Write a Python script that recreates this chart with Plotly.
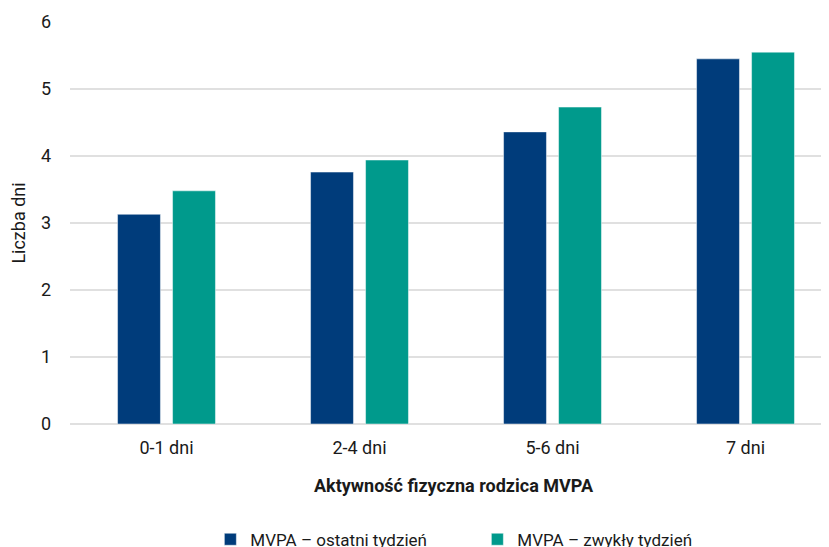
import plotly.graph_objects as go

categories = ["0-1 dni", "2-4 dni", "5-6 dni", "7 dni"]
series_names = ["MVPA – ostatni tydzień", "MVPA – zwykły tydzień"]
last_week = [3.13, 3.76, 4.36, 5.45]
usual_week = [3.48, 3.94, 4.73, 5.55]
y_ticks = [0, 1, 2, 3, 4, 5, 6]

FONT = "Liberation Sans Narrow, Arial Narrow, Roboto, sans-serif"
colors = ["#003C7B", "#009A8C"]

fig = go.Figure()
for name, vals, col in zip(series_names, [last_week, usual_week], colors):
    fig.add_trace(go.Bar(
        x=categories, y=vals, name=name,
        marker=dict(color=col, line=dict(color="rgba(255,255,255,0.6)", width=0.8)),
    ))

fig.update_layout(
    width=829, height=547,
    margin=dict(l=62, r=0, t=14, b=131, autoexpand=False),
    paper_bgcolor="white", plot_bgcolor="white",
    barmode="group", bargap=0.43, bargroupgap=0.22,
    font=dict(family=FONT, size=18, color="#1a1a1a"),
    showlegend=True,
    legend=dict(orientation="h", x=0.183, xanchor="left", y=-0.243, yanchor="top",
                font=dict(family=FONT, size=17, color="#1a1a1a"),
                itemwidth=30, entrywidthmode="pixels", entrywidth=222),
)
fig.update_xaxes(
    range=[-0.5, 3.474], showgrid=False, showline=False, ticks="", automargin=False,
    tickfont=dict(family=FONT, size=18), ticklabelstandoff=11,
    title=dict(text="<b>Aktywność fizyczna rodzica MVPA</b>", font=dict(family=FONT, size=18), standoff=22),
)
fig.update_yaxes(
    range=[0, 6], tickvals=y_ticks, showgrid=True, gridcolor="#e0e0e0", gridwidth=1.6,
    zeroline=True, zerolinecolor="#e0e0e0", zerolinewidth=1.6, showline=False, ticks="", automargin=False,
    tickfont=dict(family=FONT, size=18), ticklabelstandoff=18,
    title=dict(text="Liczba dni", font=dict(family=FONT, size=18), standoff=14),
)

fig.write_html("out.html")
